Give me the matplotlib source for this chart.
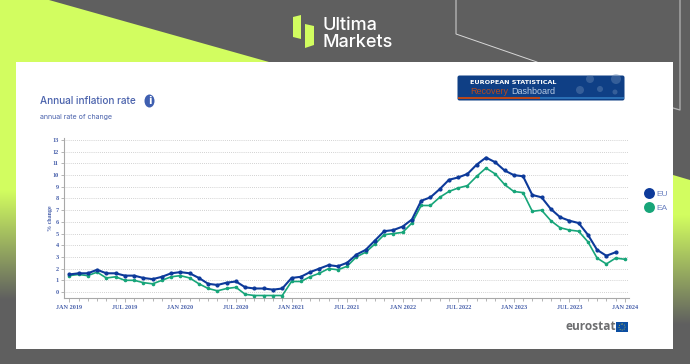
#!/usr/bin/env python3
"""Annual inflation rate, EU and EA, on the Ultima Markets card."""

import numpy as np
import matplotlib
matplotlib.use("Agg")
import matplotlib.pyplot as plt
from matplotlib.patches import Ellipse, FancyBboxPatch, Polygon, Rectangle
from matplotlib.colors import to_rgb

# ── data ───────────────────────────────────────────────────────────────
eu_values = [
    1.5, 1.6, 1.6, 1.9, 1.6, 1.6, 1.4, 1.4, 1.2, 1.1, 1.3, 1.6,
    1.7, 1.6, 1.2, 0.7, 0.6, 0.8, 0.9, 0.4, 0.3, 0.3, 0.2, 0.3,
    1.2, 1.3, 1.7, 2.0, 2.3, 2.2, 2.5, 3.2, 3.6, 4.4, 5.2, 5.3,
    5.6, 6.2, 7.8, 8.1, 8.8, 9.6, 9.8, 10.1, 10.9, 11.5, 11.1, 10.4,
    10.0, 9.9, 8.3, 8.1, 7.1, 6.4, 6.1, 5.9, 4.9, 3.6, 3.1, 3.4,
]
ea_values = [
    1.4, 1.5, 1.4, 1.7, 1.2, 1.3, 1.0, 1.0, 0.8, 0.7, 1.0, 1.3,
    1.4, 1.2, 0.7, 0.3, 0.1, 0.3, 0.4, -0.2, -0.3, -0.3, -0.3, -0.3,
    0.9, 0.9, 1.3, 1.6, 2.0, 1.9, 2.2, 3.0, 3.4, 4.1, 4.9, 5.0,
    5.1, 5.9, 7.4, 7.4, 8.1, 8.6, 8.9, 9.1, 9.9, 10.6, 10.1, 9.2,
    8.6, 8.5, 6.9, 7.0, 6.1, 5.5, 5.3, 5.2, 4.3, 2.9, 2.4, 2.9, 2.8,
]
x_tick_labels = ["JAN 2019", "JUL 2019", "JAN 2020", "JUL 2020", "JAN 2021",
                 "JUL 2021", "JAN 2022", "JUL 2022", "JAN 2023", "JUL 2023",
                 "JAN 2024"]
y_ticks = list(range(14))

GREY = "#5f5f5f"
LIME = "#d2fd60"
EU_COLOR = "#0d3a9a"
EA_COLOR = "#17a579"
TEXT_BLUE = "#4a62ac"
W, H = 690, 364

fig = plt.figure(figsize=(W / 100, H / 100), dpi=100)
fig.patch.set_facecolor(GREY)

# ── card background, drawn in pixel coordinates ────────────────────────
bg = fig.add_axes([0, 0, 1, 1])
bg.set_xlim(0, W)
bg.set_ylim(H, 0)
bg.axis("off")


def fade(x0, x1, y0, y1):
    """Lime to grey, top to bottom."""
    lime, grey = np.array(to_rgb(LIME)), np.array(to_rgb(GREY))
    t = np.linspace(0, 1, 128)[:, None, None]
    img = (1 - t) * lime.reshape(1, 1, 3) + t * grey.reshape(1, 1, 3)
    bg.imshow(img, extent=(x0, x1, y1, y0), aspect="auto", zorder=1)


bg.add_patch(Polygon([(0, 0), (49, 0), (269, 62), (269, 70), (0, 190)],
                     color=LIME, lw=0, zorder=1))
bg.add_patch(Rectangle((0, 60), 16, 130, color=LIME, lw=0, zorder=1))
fade(0, 16, 190, 300)
bg.add_patch(Polygon([(673, 175), (690, 180), (690, 216), (673, 216)],
                     color=LIME, lw=0, zorder=1))
fade(673, 690, 215, 325)
bg.set_xlim(0, W)
bg.set_ylim(H, 0)

bg.plot([456, 456, 537], [0, 34, 62], color="#d8d8d8", lw=0.7, zorder=2)
bg.plot([680, 680, 673], [0, 110, 108], color="#b5b5b5", lw=0.9, zorder=2)
bg.add_patch(Rectangle((16, 62), 657, 287, color="white", lw=0, zorder=3))

# logo
bg.add_patch(Polygon([(293, 17), (301, 15), (301, 39), (293, 37)],
                     color=LIME, lw=0, zorder=4))
bg.add_patch(Polygon([(305, 24), (314, 26), (314, 45), (305, 48)],
                     color=LIME, lw=0, zorder=4))
bg.text(323, 25.5, "Ultima", color="white", fontsize=13, family="Inter",
        weight="medium", va="center", zorder=4)
bg.text(323, 42.5, "Markets", color="white", fontsize=13, family="Inter",
        weight="medium", va="center", zorder=4)

# heading
bg.text(39.5, 101.5, "Annual inflation rate", color=TEXT_BLUE, fontsize=7.2,
        family="Inter", weight="medium", va="center", zorder=4)
bg.add_patch(Ellipse((149.5, 101), 10, 13, color="#3f5fb0", lw=0, zorder=4))
bg.text(149.5, 101, "i", color="white", fontsize=7, family="DejaVu Sans",
        weight="bold", ha="center", va="center", zorder=5)
bg.text(39.5, 116.5, "annual rate of change", color=TEXT_BLUE, fontsize=5.1,
        family="Inter", va="center", zorder=4)

# dashboard banner
bg.add_patch(FancyBboxPatch((458, 76), 166, 24,
                            boxstyle="round,pad=0.5,rounding_size=2",
                            color="#0f3f85", lw=0, zorder=4))
for cx, cy, r in [(580, 90, 4), (590, 79, 4), (600, 89, 3), (616, 79, 5), (615, 92, 2.5)]:
    bg.add_patch(Ellipse((cx, cy), 2 * r, 2 * r, color="#6f8fb8", alpha=0.4,
                         lw=0, zorder=4))
bg.add_patch(Rectangle((458, 97), 166, 2, color="#2a6fb5", lw=0, zorder=5))
bg.add_patch(Rectangle((458, 97), 82, 2, color="#b8481c", lw=0, zorder=5))
bg.text(470, 82.7, "EUROPEAN STATISTICAL", color="white", fontsize=4.6,
        family="DejaVu Sans", weight="bold", va="center", zorder=6)
bg.text(470, 91, "Recovery", color="#b8481c", fontsize=6.5,
        family="Liberation Sans", va="center", zorder=6)
bg.text(511, 91, "Dashboard", color="#b9cbe3", fontsize=6.5,
        family="Liberation Sans", va="center", zorder=6)

# legend
bg.scatter([649], [193], s=62, color=EU_COLOR, lw=0, zorder=4)
bg.scatter([649], [207], s=62, color=EA_COLOR, lw=0, zorder=4)
bg.text(656.5, 194, "EU", color="#6a80c0", fontsize=6, family="Liberation Sans",
        va="center", zorder=4)
bg.text(656.5, 208, "EA", color="#6a80c0", fontsize=6, family="Liberation Sans",
        va="center", zorder=4)

# eurostat mark
bg.text(565.5, 327, "eurostat", color="#6d6e70", fontsize=8.6, family="Open Sans",
        weight="bold", va="center", zorder=4)
bg.add_patch(Rectangle((616, 322), 12, 10, color="#0b4ea2", lw=0, zorder=4))
bg.add_patch(Ellipse((622, 327), 6, 6, fill=False, ec="#d8c63a", lw=0.6, ls=":",
                     zorder=5))

# ── chart ──────────────────────────────────────────────────────────────
left, right, top, bottom = 64.3, 629, 138, 298.3
ax = fig.add_axes([left / W, 1 - bottom / H, (right - left) / W, (bottom - top) / H])
ax.patch.set_alpha(0)

px_month = 9.26
px_unit = 11.69
ax.set_xlim((left - 69.3) / px_month, (right - 69.3) / px_month)
ax.set_ylim((292 - bottom) / px_unit, (292 - top) / px_unit)

ax.plot(range(len(ea_values)), ea_values, color=EA_COLOR, lw=1.2, marker="o",
        markersize=1.6, zorder=3)
ax.plot(range(len(eu_values)), eu_values, color=EU_COLOR, lw=1.5, marker="o",
        markersize=2.0, zorder=4)

ax.set_yticks(y_ticks)
ax.set_xticks(range(0, 61, 6))
ax.set_xticklabels(x_tick_labels)
ax.set_xticks(range(0, 61), minor=True)
ax.tick_params(axis="both", which="both", color="#a8a8a8", width=0.6, length=2.5,
               pad=1.5, labelcolor=TEXT_BLUE, labelsize=4.5)
ax.tick_params(axis="x", which="major", length=3)
for lbl in ax.get_xticklabels() + ax.get_yticklabels():
    lbl.set_family("Liberation Serif")
    lbl.set_weight("bold")

ax.grid(axis="y", color="#c4c4c4", linestyle=(0, (1, 1.5)), linewidth=0.6)
ax.set_axisbelow(True)
for side in ("top", "right"):
    ax.spines[side].set_visible(False)
for side in ("left", "bottom"):
    ax.spines[side].set_color("#a8a8a8")
    ax.spines[side].set_linewidth(0.8)

bg.text(50.7, 218, "% change", color=TEXT_BLUE, fontsize=4.3, family="Liberation Serif",
        weight="bold", rotation=90, ha="center", va="center", zorder=4)

fig.savefig("out.png", dpi=100, facecolor=fig.get_facecolor())
plt.close(fig)
